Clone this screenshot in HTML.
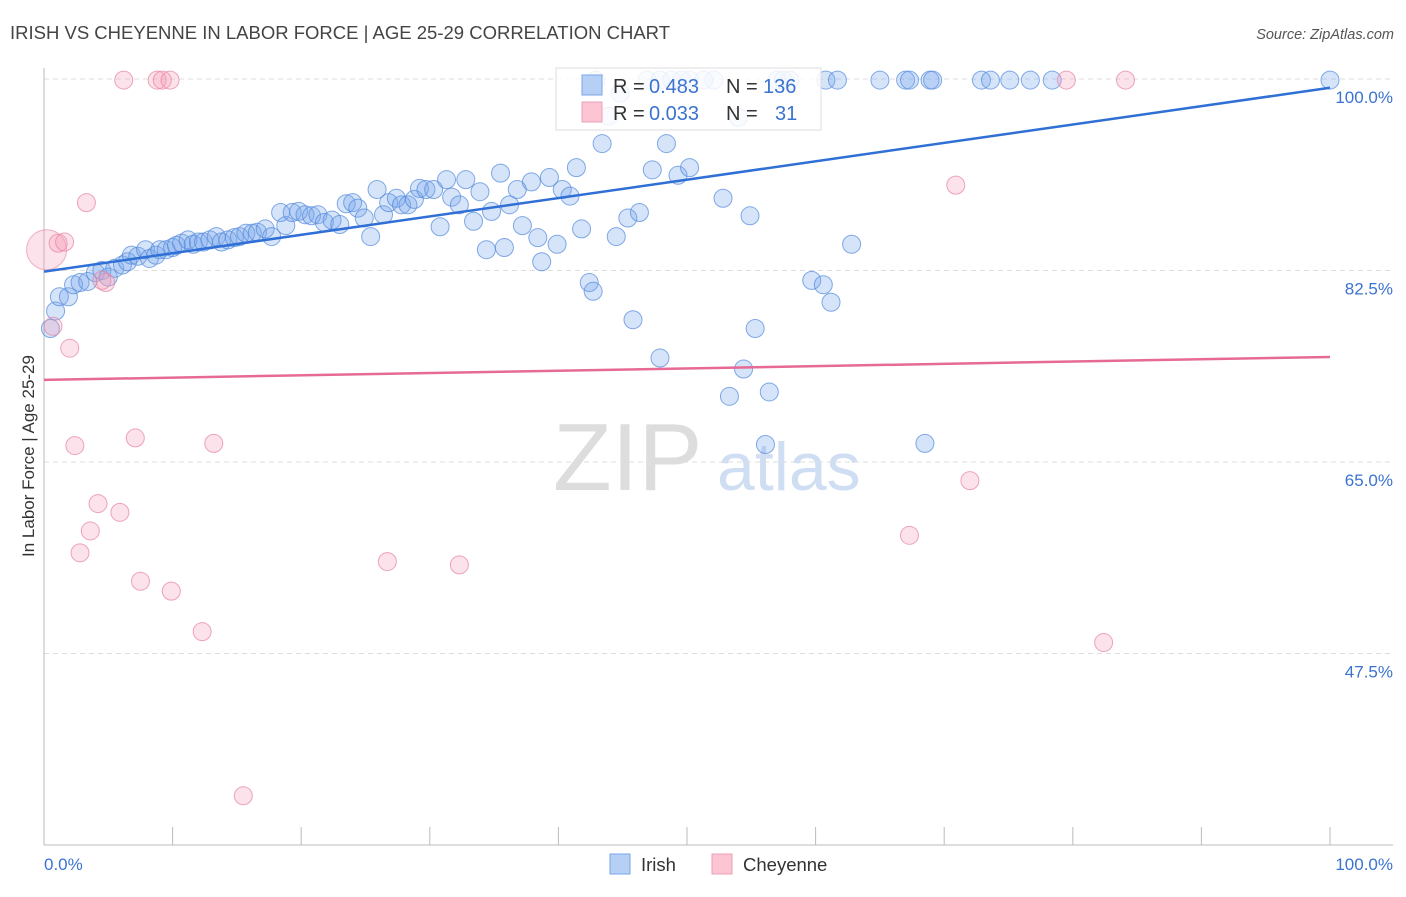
<!DOCTYPE html>
<html><head><meta charset="utf-8"><style>
body{margin:0;background:#fff;font-family:"Liberation Sans",sans-serif;}
svg text{font-family:"Liberation Sans",sans-serif;}
</style></head><body>
<svg id="chart" width="1406" height="892" xmlns="http://www.w3.org/2000/svg">
<text x="10" y="39" font-size="18.5" fill="#444">IRISH VS CHEYENNE IN LABOR FORCE | AGE 25-29 CORRELATION CHART</text>
<text x="1394" y="39" font-size="14.5" fill="#555" text-anchor="end" font-style="italic">Source: ZipAtlas.com</text>
<g><text x="553" y="490" font-size="96" fill="#ddd" font-family="Liberation Serif">ZIP</text><text x="717" y="490" font-size="68" fill="#d0def3">atlas</text></g>
<g id="grid"></g><g id="axes"></g><g id="pts"></g><g id="trend"></g>
<text transform="translate(34,456) rotate(-90)" font-size="17" fill="#333" text-anchor="middle">In Labor Force | Age 25-29</text>
<text x="44" y="870" font-size="17" fill="#3b73d0">0.0%</text>
<text x="1393" y="870" font-size="17" fill="#3b73d0" text-anchor="end">100.0%</text>
<g>
<rect x="556" y="68" width="265" height="62" fill="#fff" fill-opacity="0.85" stroke="#ddd"/>
<rect x="582" y="75" width="20" height="20" fill="#b5cff5" stroke="#7aa6e6"/>
<rect x="582" y="102" width="20" height="20" fill="#fbc5d3" stroke="#ee9fb6"/>
<text x="613" y="93" font-size="20" fill="#333">R =</text>
<text x="649" y="93" font-size="20" fill="#3b73d0">0.483</text>
<text x="726" y="93" font-size="20" fill="#333">N =</text>
<text x="763" y="93" font-size="20" fill="#3b73d0">136</text>
<text x="613" y="120" font-size="20" fill="#333">R =</text>
<text x="649" y="120" font-size="20" fill="#3b73d0">0.033</text>
<text x="726" y="120" font-size="20" fill="#333">N =</text>
<text x="775" y="120" font-size="20" fill="#3b73d0">31</text>
</g>
<g>
<rect x="610" y="854" width="20" height="20" fill="#b5cff5" stroke="#7aa6e6"/>
<text x="641" y="871" font-size="18.5" fill="#333">Irish</text>
<rect x="712" y="854" width="20" height="20" fill="#fbc5d3" stroke="#ee9fb6"/>
<text x="743" y="871" font-size="18.5" fill="#333">Cheyenne</text>
</g>
</svg>
<script>
const yTicks=[47.5,65,82.5,100];
const yTickLabels=["47.5%","65.0%","82.5%","100.0%"];
const blueX=[0.5,0.9,1.2,1.9,2.3,2.8,3.4,4.0,4.5,5.0,5.5,6.1,6.5,6.8,7.3,7.9,8.2,8.7,9.0,9.5,10.0,10.3,10.7,11.2,11.6,12.0,12.4,12.9,13.4,13.8,14.3,14.8,15.2,15.7,16.2,16.6,17.2,17.7,18.4,18.8,19.3,19.8,20.3,20.8,21.3,21.8,22.4,23.0,23.5,24.0,24.4,24.9,25.4,25.9,26.4,26.8,27.4,27.8,28.3,28.8,29.2,29.7,30.3,30.8,31.3,31.7,32.3,32.8,33.4,33.9,34.4,34.8,35.5,35.8,36.2,36.8,37.2,37.9,38.4,38.7,39.3,39.9,40.3,40.9,41.4,41.8,42.4,42.7,43.4,43.9,44.5,45.4,45.8,46.3,47.3,47.9,48.4,49.3,50.2,52.8,53.3,54.0,54.4,54.9,55.3,56.1,56.4,59.7,60.6,61.2,62.8,68.5,46.9,48.8,50.2,51.3,52.1,57.0,57.5,58.0,60.8,61.7,65.0,67.0,67.3,68.9,69.1,72.9,73.6,75.1,76.7,78.4,100,42.9,44.8,47.9,49.6];
const blueY=[77.2,78.8,80.1,80.1,81.2,81.4,81.5,82.3,82.5,81.9,82.7,83.0,83.3,83.9,83.8,84.4,83.6,83.9,84.4,84.4,84.6,84.8,85.0,85.3,84.9,85.1,85.1,85.3,85.6,85.1,85.3,85.5,85.6,85.9,85.9,86.0,86.3,85.6,87.8,86.6,87.8,87.9,87.6,87.5,87.6,86.9,87.1,86.7,88.6,88.7,88.2,87.3,85.6,89.9,87.6,88.7,89.1,88.5,88.5,89.0,90.0,89.9,89.9,86.5,90.8,89.2,88.5,90.8,87.0,89.7,84.4,87.9,91.4,84.6,88.5,89.9,86.6,90.6,85.5,83.3,91.0,84.9,89.9,89.3,91.9,86.3,81.4,80.6,94.1,96.6,85.6,87.3,78.0,87.8,91.7,74.5,94.1,91.2,91.9,89.1,71.0,96.5,73.5,87.5,77.2,66.6,71.4,81.6,81.2,79.6,84.9,66.7,99.9,99.9,99.9,99.9,99.9,99.9,99.9,99.9,99.9,99.9,99.9,99.9,99.9,99.9,99.9,99.9,99.9,99.9,99.9,99.9,99.9,99.9,98.7,99.9,99.9];
const pinkX=[1.1,1.6,3.3,0.7,2.0,4.8,4.5,6.2,8.8,9.2,9.8,2.4,7.1,13.2,4.2,5.9,3.6,2.8,7.5,9.9,12.3,15.5,26.7,32.3,67.3,72.0,70.9,79.5,84.1,82.4];
const pinkY=[85.0,85.1,88.7,77.4,75.4,81.4,81.6,99.9,99.9,99.9,99.9,66.5,67.2,66.7,61.2,60.4,58.7,56.7,54.1,53.2,49.5,34.5,55.9,55.6,58.3,63.3,90.3,99.9,99.9,48.5];
const pinkBigX=[0.2], pinkBigY=[84.4];
const blueTrend=[82.4,99.2];
const pinkTrend=[72.5,74.6];
const NS='http://www.w3.org/2000/svg';
const X0=44,X1=1330,YT=79,YB=845,VMIN=30,VMAX=100;
const sx=v=>X0+(X1-X0)*v/100;
const sy=v=>YB-(YB-YT)*(v-VMIN)/(VMAX-VMIN);
function mk(t,a,p){const e=document.createElementNS(NS,t);for(const k in a)e.setAttribute(k,a[k]);document.getElementById(p).appendChild(e);return e;}
yTicks.forEach((v,i)=>{
 const l=mk('line',{x1:X0,x2:1393,y1:sy(v),y2:sy(v),stroke:'#ddd','stroke-dasharray':'5,4'},'grid');
 
 
 const t=mk('text',{x:1393,y:sy(v)+24,'font-size':17,fill:'#3b73d0','text-anchor':'end'},'grid');
 t.textContent=yTickLabels[i];
 
 
});
const ya=mk('line',{x1:X0,x2:X0,y1:68,y2:YB,stroke:'#bbb'},'axes');


const xa=mk('line',{x1:X0,x2:1393,y1:YB,y2:YB,stroke:'#bbb'},'axes');


for(let i=0;i<=10;i++){const tk=mk('line',{x1:sx(i*10),x2:sx(i*10),y1:YB,y2:YB-18,stroke:'#bbb'},'axes');
 
 }
pinkBigX.forEach((v,i)=>{const c=mk('circle',{cx:sx(v),cy:sy(pinkBigY[i]),r:20,fill:'rgba(245,160,185,0.3)',stroke:'rgba(230,130,160,0.6)'},'pts');
 
 });
blueX.forEach((v,i)=>{const c=mk('circle',{cx:sx(v),cy:sy(blueY[i]),r:9,fill:'rgba(120,165,235,0.3)',stroke:'rgba(80,135,220,0.7)'},'pts');
 
 });
pinkX.forEach((v,i)=>{const c=mk('circle',{cx:sx(v),cy:sy(pinkY[i]),r:9,fill:'rgba(245,160,185,0.3)',stroke:'rgba(230,130,160,0.7)'},'pts');
 
 });
const bt=mk('line',{x1:sx(0),x2:sx(100),y1:sy(blueTrend[0]),y2:sy(blueTrend[1]),stroke:'#2f6fd6','stroke-width':2.5},'trend');


const pt=mk('line',{x1:sx(0),x2:sx(100),y1:sy(pinkTrend[0]),y2:sy(pinkTrend[1]),stroke:'#e66a95','stroke-width':2.5},'trend');


</script>
</body></html>
